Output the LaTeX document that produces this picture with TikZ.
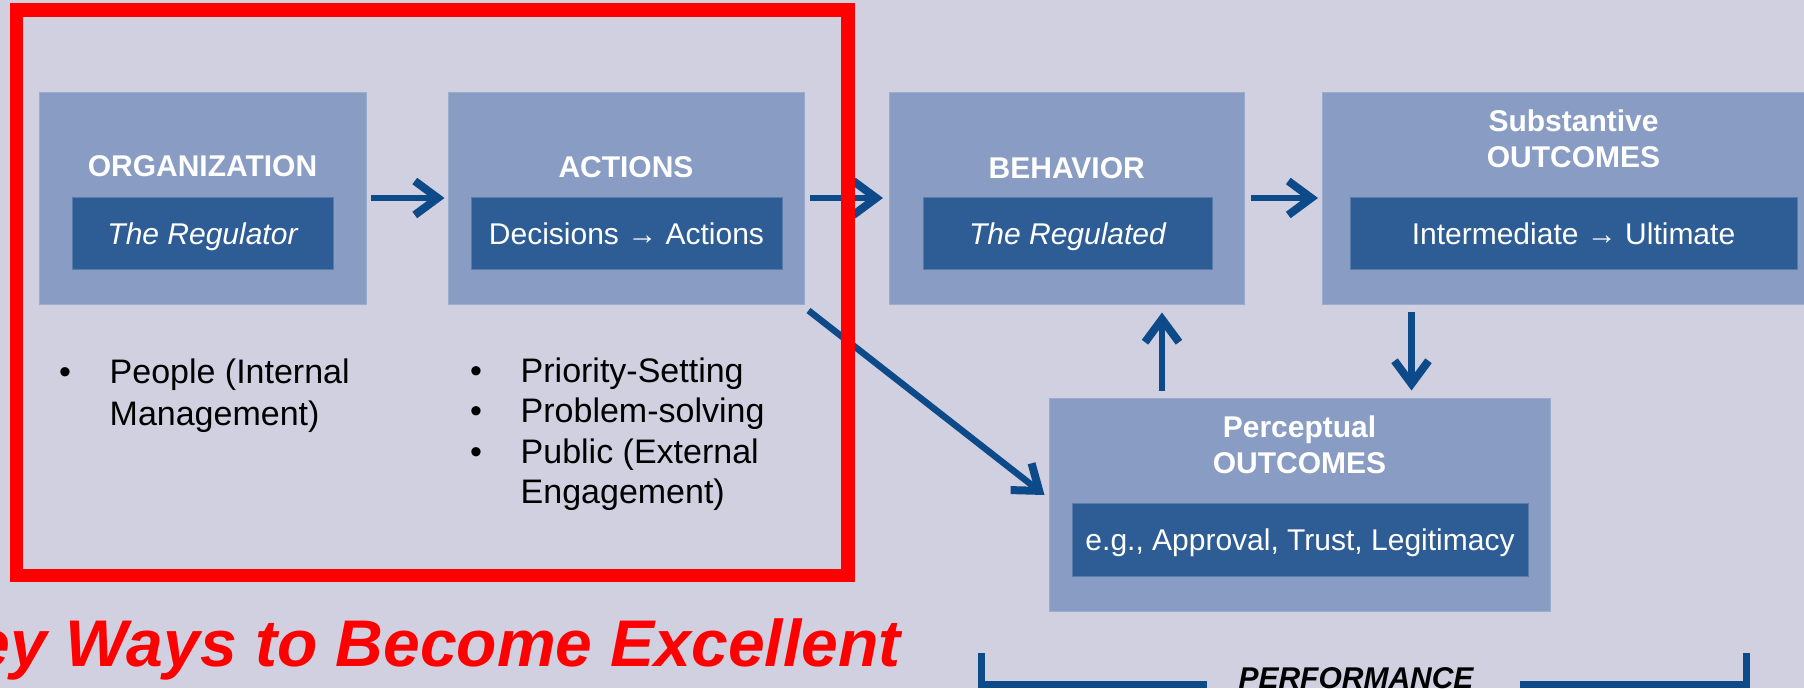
\documentclass[tikz,border=0pt]{standalone}
\usepackage{fontspec}
\setmainfont{Liberation Sans}
\usetikzlibrary{arrows.meta,calc}
\definecolor{bgc}{HTML}{D0D0E1}
\definecolor{outerc}{HTML}{889CC4}
\definecolor{innerc}{HTML}{2E5D96}
\definecolor{arrowc}{HTML}{0D4A89}
\definecolor{redc}{HTML}{FF0000}
\tikzset{
  obox/.style={fill=outerc, draw=outerc!85!white, line width=1pt, inner sep=0pt},
  ibox/.style={fill=innerc, draw=innerc!80!white, line width=1pt, inner sep=0pt},
  ttl/.style={text=white, inner sep=0pt, anchor=base, font=\fontsize{30}{36}\selectfont\bfseries},
  itxt/.style={text=white, inner sep=0pt, anchor=base, font=\fontsize{30}{36}\selectfont},
  btxt/.style={text=black, inner sep=0pt, font=\fontsize{34}{41}\selectfont},
  arr/.style={draw=arrowc, line width=6.5pt, -{Straight Barb[length=23pt,width=34pt,line width=8pt]}},
  brk/.style={draw=arrowc, line width=7pt},
  redframe/.style={draw=redc, line width=13.3pt}
}
\begin{document}
\begin{tikzpicture}[x=1pt,y=-1pt]
\fill[bgc] (0,0) rectangle (1804,688);
\useasboundingbox (0,0) rectangle (1804,688);

% outer boxes
\node[obox, minimum width=327pt, minimum height=212pt] (org) at (202.5,198) {};
\node[obox, minimum width=356pt, minimum height=212pt] (act) at (626,198) {};
\node[obox, minimum width=354.5pt, minimum height=212pt] (beh) at (1066.75,198) {};
\node[obox, minimum width=502pt, minimum height=212pt] (sub) at (1573.5,198) {};
\node[obox, minimum width=501pt, minimum height=213pt] (perc) at (1299.5,504.5) {};

% inner boxes
\node[ibox, minimum width=261pt, minimum height=72pt] (orgin) at (202.5,233) {};
\node[ibox, minimum width=311pt, minimum height=72pt] (actin) at (626.5,233) {};
\node[ibox, minimum width=289pt, minimum height=72pt] (behin) at (1067.5,233) {};
\node[ibox, minimum width=447pt, minimum height=72pt] (subin) at (1573.5,233) {};
\node[ibox, minimum width=456pt, minimum height=73pt] (percin) at (1300,539.5) {};

% titles
\node[ttl] (orgt) at (202.5,176) {ORGANIZATION};
\node[ttl] (actt) at (626,177.5) {ACTIONS};
\node[ttl] (beht) at (1066.75,178) {BEHAVIOR};
\node[ttl] (subt1) at (1573.5,131) {Substantive};
\node[ttl] (subt2) at (1573.5,167) {OUTCOMES};
\node[ttl] (perct1) at (1299.5,437) {Perceptual};
\node[ttl] (perct2) at (1299.5,473.5) {OUTCOMES};

% inner texts
\node[itxt] (orgi) at (202.5,244.5) {\itshape The Regulator};
\node[itxt] (acti) at (626.5,244.5) {Decisions → Actions};
\node[itxt] (behi) at (1067.5,244.5) {\itshape The Regulated};
\node[itxt] (subi) at (1573.5,244.5) {Intermediate → Ultimate};
\node[itxt] (perci) at (1300,550) {e.g., Approval, Trust, Legitimacy};

% connectors
\coordinate (upx) at (1162,0);
\coordinate (dnx) at (1411.5,0);
\draw[arr, shorten <=4pt, shorten >=3pt] (org) -- (act);
\draw[arr, shorten <=5pt, shorten >=6pt] (act) -- (beh);
\draw[arr, shorten <=6pt, shorten >=4pt] (beh) -- (sub);
\draw[arr, shorten <=7pt, shorten >=8pt] (perc.north -| upx) -- (beh.south -| upx);
\draw[arr, shorten <=7pt, shorten >=7pt] (sub.south -| dnx) -- (perc.north -| dnx);
\draw[arr] ($(act.south east)+(4,6)$) -- ($(perc.west)+(-4,-9.5)$);

% bullet lists
\node[btxt, anchor=base] (b1d) at (65,383) {•};
\node[btxt, anchor=base west] (b1a) at (109.5,383) {People (Internal};
\node[btxt, anchor=base west] (b1b) at (109.5,425) {Management)};
\node[btxt, anchor=base] (b2d1) at (476,382) {•};
\node[btxt, anchor=base] (b2d2) at (476,422) {•};
\node[btxt, anchor=base] (b2d3) at (476,463) {•};
\node[btxt, anchor=base west] (b2a) at (520.5,382) {Priority-Setting};
\node[btxt, anchor=base west] (b2b) at (520.5,422) {Problem-solving};
\node[btxt, anchor=base west] (b2c) at (520.5,463) {Public (External};
\node[btxt, anchor=base west] (b2e) at (520.5,503) {Engagement)};

% performance bracket
\node[inner sep=0pt, anchor=base, font=\fontsize{30}{36}\selectfont\bfseries\itshape] (perf) at (1356,688) {PERFORMANCE};
\draw[brk] (981,653) -- (981,684.5) -- (1207,684.5);
\draw[brk] (1520,684.5) -- (1746.5,684.5) -- (1746.5,653);

% red frame and caption
\draw[redframe] (16.7,10) rectangle (848,575.8);
\node[inner sep=0pt, anchor=base east, text=redc, font=\fontsize{66}{72}\selectfont\bfseries\itshape] (key) at (901,666) {Key Ways to Become Excellent};
\end{tikzpicture}
\end{document}
